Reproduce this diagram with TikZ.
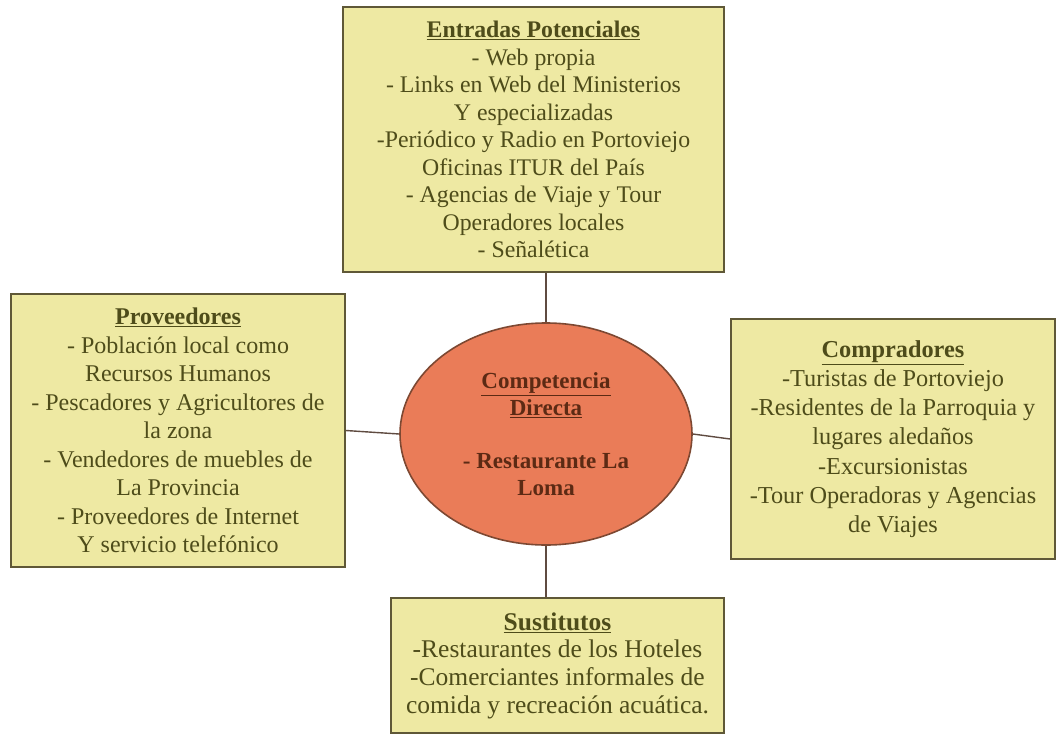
\documentclass[tikz,border=0pt]{standalone}
\usepackage{fontspec}
\setmainfont{Liberation Serif}
\usetikzlibrary{shapes.geometric}
\definecolor{boxfill}{RGB}{238,233,163}
\definecolor{boxline}{RGB}{95,88,55}
\definecolor{boxtext}{RGB}{78,76,26}
\definecolor{ellfill}{RGB}{234,124,88}
\definecolor{elline}{RGB}{125,72,50}
\definecolor{elltext}{RGB}{92,42,20}
\definecolor{linkcol}{RGB}{95,75,65}
\newcommand{\ttl}[1]{\underline{\textbf{#1}}}
\begin{document}
\begin{tikzpicture}[x=1pt,y=-1pt,
  box/.style={draw=boxline, line width=1.6pt, fill=boxfill, inner sep=0pt,
    align=center, text=boxtext, font=\fontsize{24}{28.5}\selectfont},
  ell/.style={ellipse, draw=elline, line width=1.6pt, fill=ellfill, inner sep=0pt,
    align=center, text=elltext, font=\fontsize{23}{26.5}\selectfont},
  link/.style={draw=linkcol, line width=1.4pt}]
\useasboundingbox (0,0) rectangle (1057,734);
\node[box, minimum width=381pt, minimum height=265pt, font=\fontsize{23.8}{27.5}\selectfont] (top) at (533.5,139.5)
  {\ttl{Entradas Potenciales}\\- Web propia\\- Links en Web del Ministerios\\Y especializadas\\-Periódico y Radio en Portoviejo\\Oficinas ITUR del País\\- Agencias de Viaje y Tour\\Operadores locales\\- Señalética};
\node[box, minimum width=334pt, minimum height=273pt] (left) at (178,430.5)
  {\ttl{Proveedores}\\- Población local como\\Recursos Humanos\\- Pescadores y Agricultores de\\la zona\\- Vendedores de muebles de\\La Provincia\\- Proveedores de Internet\\Y servicio telefónico};
\node[box, minimum width=324pt, minimum height=240pt, font=\fontsize{24.3}{29.2}\selectfont] (right) at (893,439)
  {\ttl{Compradores}\\-Turistas de Portoviejo\\-Residentes de la Parroquia y\\lugares aledaños\\-Excursionistas\\-Tour Operadoras y Agencias\\de Viajes};
\node[box, minimum width=333pt, minimum height=135pt, font=\fontsize{25.5}{27.7}\selectfont] (bot) at (557.5,665.5)
  {\ttl{Sustitutos}\\-Restaurantes de los Hoteles\\-Comerciantes informales de\\comida y recreación acuática.};
\node[ell, minimum width=292pt, minimum height=222pt] (ell) at (546,434)
  {\ttl{Competencia}\\\ttl{Directa}\\[27pt]\textbf{- Restaurante La}\\\textbf{Loma}};
\draw[link] (ell.north) -- (ell.north |- top.south);
\draw[link] (ell.south) -- (ell.south |- bot.north);
\draw[link] (left.east) -- (ell.west);
\draw[link] (right.west) -- (ell.east);
\end{tikzpicture}
\end{document}
